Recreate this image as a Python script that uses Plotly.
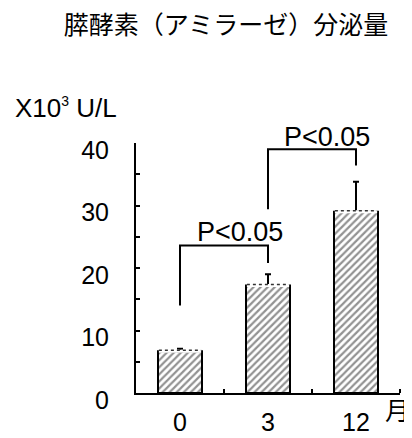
import plotly.graph_objects as go

# ---- data ----
months = ["0", "3", "12"]
amylase = [6.7, 17.2, 29.0]          # x10^3 U/L
amylase_err = [0.4, 1.8, 4.8]
y_ticks = [0, 10, 20, 30, 40]
sig_label = "P&lt;0.05"
# significance brackets: (left idx, right idx, bar height, left drop, right drop)
brackets = [(0, 1, 23.6, 14.0, 20.8), (1, 2, 39.0, 29.4, 36.4)]

FONT = "Liberation Sans, Arial, Noto Sans CJK JP"
idx = list(range(len(months)))
bw = 0.5
OFF = 8  # page body margin compensation

fig = go.Figure()
fig.add_trace(go.Bar(
    x=idx, y=amylase, width=bw,
    marker=dict(color="white",
                line=dict(color="black", width=2),
                pattern=dict(shape="/", fgcolor="#262626", bgcolor="white",
                             size=5, solidity=0.45)),
    error_y=dict(type="data", array=amylase_err, arrayminus=[0]*3,
                 symmetric=False, color="black", thickness=2, width=3),
    showlegend=False, hoverinfo="skip"))

# dotted top edges of the bars
for i, v in zip(idx, amylase):
    fig.add_trace(go.Scatter(x=[i - bw/2 + 0.01, i + bw/2 - 0.01], y=[v, v], mode="lines",
                             line=dict(color="white", width=3),
                             showlegend=False, hoverinfo="skip"))
    fig.add_trace(go.Scatter(x=[i - bw/2 + 0.01, i + bw/2 - 0.01], y=[v + 0.15, v + 0.15], mode="lines",
                             line=dict(color="#333333", width=1.5, dash="dot"),
                             showlegend=False, hoverinfo="skip"))

# significance brackets
for (a, b, h, da, db) in brackets:
    fig.add_trace(go.Scatter(x=[a, a, b, b], y=[da, h, h, db], mode="lines",
                             line=dict(color="black", width=2),
                             showlegend=False, hoverinfo="skip", cliponaxis=False))

fig.add_annotation(x=0.68, xref="x", y=25.8/40, yref="paper", yanchor="middle",
                   text=sig_label, showarrow=False,
                   font=dict(size=27, color="black", family=FONT))
fig.add_annotation(x=1.67, xref="x", y=41.0/40, yref="paper", yanchor="middle",
                   text=sig_label, showarrow=False,
                   font=dict(size=27, color="black", family=FONT))

fig.add_annotation(xref="paper", yref="paper", x=-0.466, y=1.14, xanchor="left",
                   yanchor="middle",
                   text="X10<sup><span style='font-size:14px'>3</span></sup> U/L",
                   showarrow=False,
                   font=dict(size=26, color="black", family=FONT))
fig.add_annotation(xref="paper", yref="paper", x=0.989, y=-0.07, xanchor="center",
                   yanchor="middle", text="月", showarrow=False,
                   font=dict(size=25, color="black", family=FONT))

fig.update_layout(
    width=412, height=438,
    margin=dict(l=136 - OFF, r=12 + OFF, t=143 - OFF, b=45 + OFF, autoexpand=False),
    paper_bgcolor="white", plot_bgcolor="white",
    font=dict(family=FONT, size=24, color="black"),
    title=dict(text="膵酵素（アミラーゼ）分泌量", x=(226 - OFF)/412, xanchor="center",
               y=1 - (25 - OFF)/438, yanchor="middle",
               font=dict(size=25, color="black", family=FONT)),
    xaxis=dict(range=[-0.5, 2.5], tickvals=idx, ticktext=months,
               showline=True, linecolor="black", linewidth=2,
               ticks="", showgrid=False, zeroline=False, automargin=False,
               ticklabelstandoff=6,
               tickfont=dict(size=25),
               minor=dict(tickvals=[0.5, 1.5, 2.5], ticks="inside", ticklen=4,
                          tickcolor="black", tickwidth=2)),
    yaxis=dict(range=[0, 40], tickvals=y_ticks,
               showline=True, linecolor="black", linewidth=2,
               ticks="inside", ticklen=4, tickwidth=2, tickcolor="black",
               showgrid=False, zeroline=False, automargin=False,
               ticklabelstandoff=20, ticklabelshift=7,
               tickfont=dict(size=25),
               minor=dict(dtick=5, tick0=0, ticks="inside", ticklen=4,
                          tickcolor="black", tickwidth=2, showgrid=False)),
)

fig.write_html("out.html")
